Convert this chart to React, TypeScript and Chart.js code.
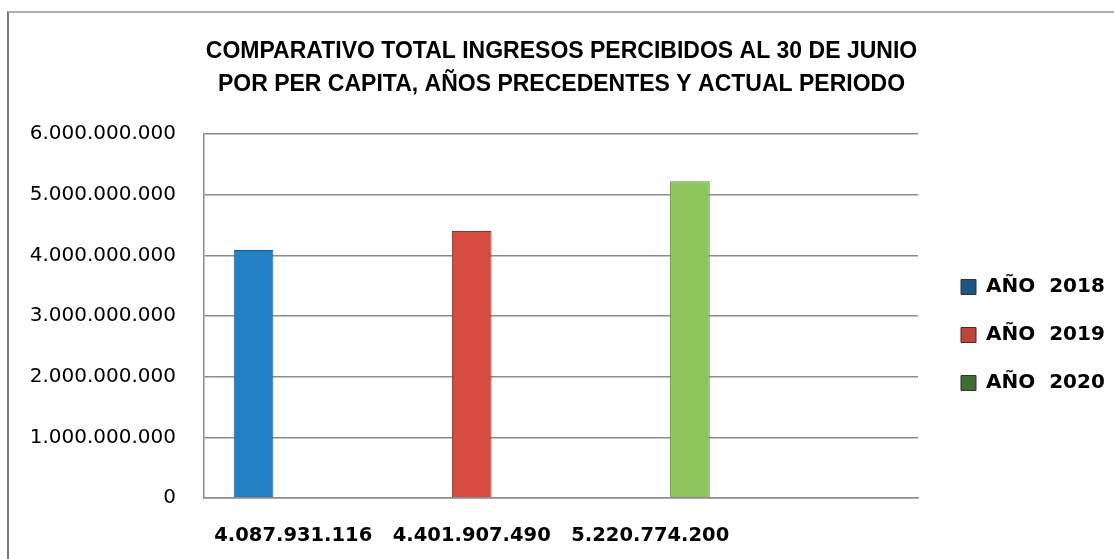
import React, { useEffect, useRef } from 'react';
import { Chart, registerables } from 'chart.js';

Chart.register(...registerables);

const categories = ['4.087.931.116', '4.401.907.490', '5.220.774.200', ''];
const seriesNames = ['AÑO  2018', 'AÑO  2019', 'AÑO  2020'];
const values2018 = [4087931116, null, null, null];
const values2019 = [null, 4401907490, null, null];
const values2020 = [null, null, 5220774200, null];
const yTickLabels = [
  '0',
  '1.000.000.000',
  '2.000.000.000',
  '3.000.000.000',
  '4.000.000.000',
  '5.000.000.000',
  '6.000.000.000',
];
const titleLines = [
  'COMPARATIVO TOTAL INGRESOS PERCIBIDOS AL 30 DE JUNIO',
  'POR PER CAPITA, AÑOS PRECEDENTES Y ACTUAL PERIODO',
];

const barColors = ['#2280c4', '#d64c40', '#8dc45b'];
const barBorders = ['#16609a', '#93322a', '#5f8f38'];
const legendColors = ['#1d5582', '#c0453a', '#3f6d36'];

export default function App() {
  const canvasRef = useRef<HTMLCanvasElement | null>(null);

  useEffect(() => {
    document.body.style.overflow = 'hidden';
    const canvas = canvasRef.current;
    if (!canvas) return;
    const gridColor = '#8c8c8c';
    const chart = new Chart(canvas, {
      type: 'bar',
      data: {
        labels: categories,
        datasets: [values2018, values2019, values2020].map((vals, i) => ({
          label: seriesNames[i],
          data: vals,
          backgroundColor: barColors[i],
          borderColor: barBorders[i],
          borderWidth: 1,
          categoryPercentage: 3 / 4.5,
          barPercentage: 1,
        })),
      },
      options: {
        responsive: false,
        animation: false,
        layout: { padding: { left: 0, right: 0, top: 0, bottom: 0 } },
        scales: {
          x: {
            grid: { display: false, drawTicks: false },
            border: { display: true, color: gridColor, width: 1.5 },
            ticks: {
              color: '#000',
              autoSkip: false,
              maxRotation: 0,
              minRotation: 0,
              padding: 26,
              font: { family: 'DejaVu Sans', weight: 'bold', size: 19.5 },
            },
            afterFit: (s: any) => {
              s.height = 61;
            },
          },
          y: {
            min: 0,
            max: 6000000000,
            grid: { color: gridColor, lineWidth: 1.5, drawTicks: false },
            border: { display: true, color: gridColor, width: 1.5 },
            ticks: {
              stepSize: 1000000000,
              color: '#000',
              padding: 28,
              font: { family: 'DejaVu Sans', size: 20 },
              callback: (_v: any, index: number) => yTickLabels[index],
            },
            afterFit: (s: any) => {
              s.width = 195;
            },
          },
          y2: {
            position: 'right',
            display: true,
            grid: { display: false, drawTicks: false },
            border: { display: false },
            ticks: { display: false },
            afterFit: (s: any) => {
              s.width = 15;
            },
          },
        },
        plugins: {
          title: {
            display: true,
            text: titleLines,
            color: '#000',
            font: { family: 'Liberation Sans', weight: 'bold', size: 23, lineHeight: 33 / 23 },
            padding: { top: 22.5, bottom: 32.5 },
          },
          legend: {
            display: true,
            position: 'right',
            fullSize: false,
            maxWidth: 181,
            title: {
              display: true,
              text: ' ',
              font: { size: 10, lineHeight: 1.2 },
              padding: { top: 13, bottom: 13 },
            },
            labels: {
              color: '#000',
              boxWidth: 15,
              boxHeight: 15,
              padding: 28,
              font: { family: 'DejaVu Sans', weight: 'bold', size: 20 },
              generateLabels: (c: any) => {
                const items = Chart.defaults.plugins.legend.labels.generateLabels(c);
                return items.map((it: any, i: number) => ({
                  ...it,
                  fillStyle: legendColors[i],
                  strokeStyle: '#333',
                  lineWidth: 1,
                }));
              },
            },
          },
          tooltip: { enabled: false },
        },
      } as any,
    });
    return () => chart.destroy();
  }, []);

  return (
    <div
      style={{
        position: 'absolute',
        left: 7,
        top: 11,
        width: 1105,
        height: 546,
        borderLeft: '2px solid #7a7a7a',
        borderTop: '2px solid #b0b0b0',
        background: '#fff',
      }}
    >
      <canvas ref={canvasRef} width={1105} height={546} style={{ display: 'block' }} />
    </div>
  );
}
